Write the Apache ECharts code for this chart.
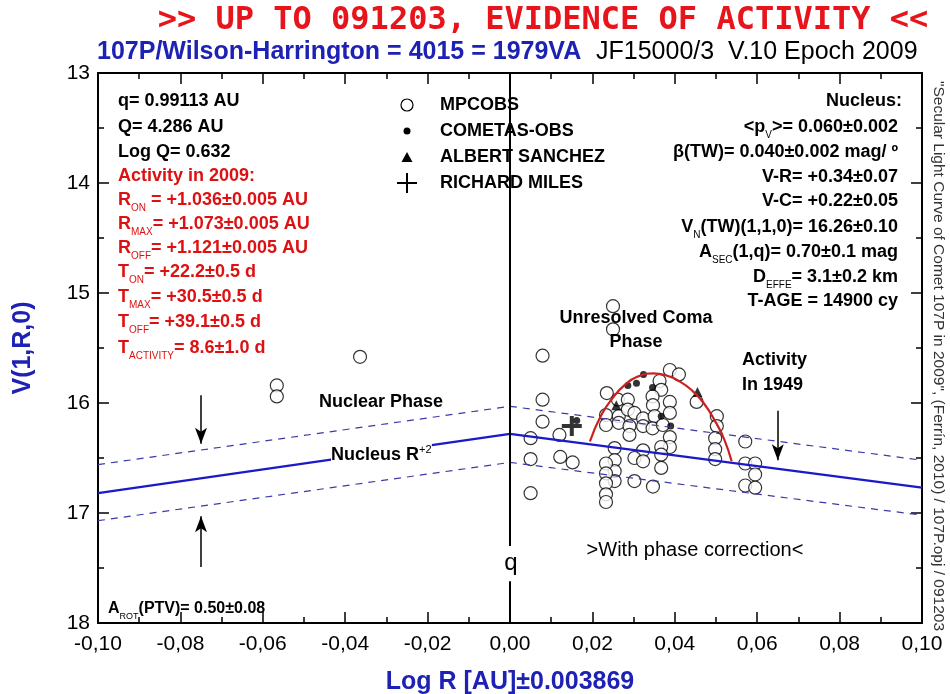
<!DOCTYPE html>
<html lang="en">
<head>
<meta charset="UTF-8">
<title>107P/Wilson-Harrington secular light curve</title>
<script src="https://cdn.jsdelivr.net/npm/echarts@6/dist/echarts.min.js"></script>
<style>
    html, body { margin: 0; padding: 0; background: #fff; }
    #chart { width: 950px; height: 694px; }
</style>
</head>
<body>
<div id="chart"></div>
<script>
// ---- data (x = Log R, y = V(1,R,0)) ----
var xMin = -0.10, xMax = 0.10, xStep = 0.02;
var yMin = 13, yMax = 18, yStep = 1;

var mpcObs = [
    [-0.0566, 15.84], [-0.0566, 15.94], [-0.0364, 15.58],
    [0.0079, 15.57], [0.0079, 15.97], [0.0079, 16.17], [0.0050, 16.32], [0.0050, 16.51], [0.0050, 16.82],
    [0.0120, 16.29], [0.0122, 16.49], [0.0152, 16.54],
    [0.0250, 15.12], [0.0250, 15.33],
    [0.0388, 15.70], [0.0410, 15.74], [0.0363, 15.80], [0.0367, 15.88], [0.0346, 15.94], [0.0388, 15.99],
    [0.0453, 15.99], [0.0235, 15.91], [0.0262, 15.97], [0.0286, 15.97], [0.0233, 16.11], [0.0233, 16.20],
    [0.0264, 16.12], [0.0264, 16.18], [0.0286, 16.06], [0.0302, 16.09], [0.0290, 16.21], [0.0290, 16.29],
    [0.0323, 16.14], [0.0323, 16.21], [0.0347, 16.02], [0.0351, 16.12], [0.0346, 16.23], [0.0371, 16.20],
    [0.0388, 16.09], [0.0388, 16.31], [0.0388, 16.40], [0.0367, 16.40], [0.0367, 16.47], [0.0367, 16.59],
    [0.0323, 16.43], [0.0302, 16.50], [0.0323, 16.53], [0.0254, 16.41], [0.0254, 16.52], [0.0254, 16.62],
    [0.0254, 16.71], [0.0233, 16.55], [0.0233, 16.64], [0.0233, 16.73], [0.0233, 16.83], [0.0233, 16.90],
    [0.0302, 16.71], [0.0347, 16.76], [0.0502, 16.12], [0.0502, 16.21], [0.0498, 16.32], [0.0498, 16.42],
    [0.0498, 16.51],
    [0.0571, 16.35], [0.0571, 16.55], [0.0595, 16.55], [0.0595, 16.65], [0.0571, 16.75], [0.0595, 16.77]
];
var cometasObs = [[0.0286, 15.84], [0.0307, 15.82], [0.0324, 15.74], [0.0346, 15.86], [0.0367, 16.12], [0.0390, 16.21], [0.0162, 16.16]];
var albertSanchez = [[0.0258, 16.02], [0.0455, 15.90]];
var richardMiles = [[0.0150, 16.21]];

var nucleusLine = [[-0.10, 16.82], [0.00, 16.28], [0.10, 16.77]];
var upperBand = [[-0.10, 16.56], [0.00, 16.03], [0.10, 16.52]];
var lowerBand = [[-0.10, 17.07], [0.00, 16.54], [0.10, 17.02]];
var comaCurve = [
    [0.0194, 16.35], [0.0220, 16.12], [0.0250, 15.95], [0.0280, 15.83], [0.0310, 15.76], [0.0347, 15.73],
    [0.0380, 15.75], [0.0410, 15.80], [0.0440, 15.88], [0.0470, 16.00], [0.0500, 16.18], [0.0520, 16.33], [0.0538, 16.53]
];

var FONT = '"Liberation Sans", Arial, sans-serif';
var RED = '#dd1111';
var BLUE = '#1e22b4';

function txt(x, y, text, o) {
    o = o || {};
    return {
        type: 'text', x: x, y: y, z: 100,
        style: {
            text: text,
            fill: o.color || '#000',
            fontSize: o.size || 18,
            fontWeight: o.weight || 'bold',
            fontFamily: o.family || FONT,
            align: o.align || 'left',
            verticalAlign: 'middle',
            backgroundColor: o.bg,
            rich: o.rich
        }
    };
}

function richSub(color, size) {
    return {
        a: { fill: color, fontSize: size, fontWeight: 'bold', fontFamily: FONT, lineHeight: 26 },
        s: { fill: color, fontSize: 10, fontFamily: FONT, lineHeight: 8, verticalAlign: 'bottom' }
    };
}

// frame axis: same look on all four sides
function frameAxis(extra) {
    var a = {
        type: 'value',
        axisLine: { onZero: false, lineStyle: { color: '#000', width: 2 } },
        axisTick: { inside: true, length: 11, lineStyle: { color: '#000', width: 1.5 } },
        minorTick: { show: true, splitNumber: 2, length: 6, lineStyle: { color: '#000', width: 1.5 } },
        axisLabel: { show: false },
        splitLine: { show: false }
    };
    for (var k in extra) a[k] = extra[k];
    return a;
}

var mChart = echarts.init(document.getElementById('chart'));

var blackRich = richSub('#000', 18);
var redRich = richSub(RED, 18);

var option = {
    animation: false,
    grid: { left: 98, right: 28, top: 73, bottom: 71, containLabel: false, outerBoundsMode: 'none' },
    xAxis: [
        frameAxis({
            min: xMin, max: xMax, interval: xStep, position: 'bottom',
            name: 'Log R [AU]±0.003869', nameLocation: 'middle', nameGap: 47,
            nameTextStyle: { color: BLUE, fontSize: 25, fontWeight: 'bold', fontFamily: FONT },
            axisLabel: {
                color: '#000', fontSize: 21, fontFamily: FONT, margin: 11,
                formatter: function (v) { return v.toFixed(2).replace('.', ','); }
            }
        }),
        frameAxis({ min: xMin, max: xMax, interval: xStep, position: 'top' })
    ],
    yAxis: [
        frameAxis({
            min: yMin, max: yMax, interval: yStep, inverse: true, position: 'left',
            name: 'V(1,R,0)', nameLocation: 'middle', nameGap: 62, nameRotate: 90,
            nameTextStyle: { color: BLUE, fontSize: 25, fontWeight: 'bold', fontFamily: FONT },
            axisLabel: { color: '#000', fontSize: 21, fontFamily: FONT, margin: 8 }
        }),
        frameAxis({ min: yMin, max: yMax, interval: yStep, inverse: true, position: 'right' })
    ],
    series: [
        {
            name: 'Upper band', type: 'line', data: upperBand, symbol: 'none',
            lineStyle: { color: '#3a3aa8', width: 1.2, type: [7, 6] }, silent: true
        },
        {
            name: 'Lower band', type: 'line', data: lowerBand, symbol: 'none',
            lineStyle: { color: '#3a3aa8', width: 1.2, type: [7, 6] }, silent: true
        },
        {
            name: 'Nucleus', type: 'line', data: nucleusLine, symbol: 'none',
            lineStyle: { color: '#1a1ac8', width: 2.2 }, silent: true
        },
        {
            name: 'Perihelion', type: 'line', data: [], silent: true,
            markLine: {
                silent: true, symbol: 'none', label: { show: false },
                lineStyle: { color: '#000', width: 2, type: 'solid' },
                data: [
                    [{ coord: [0, 13] }, { coord: [0, 17.3] }],
                    [{ coord: [0, 17.62] }, { coord: [0, 18] }]
                ]
            }
        },
        {
            name: 'Arrows', type: 'line', data: [], silent: true,
            markLine: {
                silent: true, symbol: ['none', 'arrow'], symbolSize: [9, 16], label: { show: false },
                lineStyle: { color: '#000', width: 1.5, type: 'solid' },
                data: [
                    [{ coord: [-0.075, 15.93] }, { coord: [-0.075, 16.37] }],
                    [{ coord: [-0.075, 17.49] }, { coord: [-0.075, 17.03] }],
                    [{ coord: [0.065, 16.07] }, { coord: [0.065, 16.52] }]
                ]
            }
        },
        {
            name: 'MPCOBS', type: 'scatter', data: mpcObs, symbol: 'circle', symbolSize: 13,
            itemStyle: { color: '#fff', borderColor: '#000', borderWidth: 1.2 }
        },
        {
            name: 'Activity fit', type: 'line', data: comaCurve, symbol: 'none', smooth: true,
            lineStyle: { color: '#cc2020', width: 2.2 }, silent: true
        },
        {
            name: 'COMETAS-OBS', type: 'scatter', data: cometasObs, symbol: 'circle', symbolSize: 7,
            itemStyle: { color: '#000' }
        },
        {
            name: 'ALBERT SANCHEZ', type: 'scatter', data: albertSanchez, symbol: 'triangle', symbolSize: 10,
            itemStyle: { color: '#000' }
        },
        {
            name: 'RICHARD MILES', type: 'scatter', data: richardMiles,
            symbol: 'path://M4,0 L6,0 L6,4 L10,4 L10,6 L6,6 L6,10 L4,10 L4,6 L0,6 L0,4 L4,4 Z', symbolSize: 20,
            itemStyle: { color: '#000' }
        }
    ],
    graphic: [
        txt(543, 21, '>> UP TO 091203, EVIDENCE OF ACTIVITY <<', { color: '#e8141c', size: 32, align: 'center', family: '"DejaVu Sans Mono", monospace' }),
        txt(97, 52, '107P/Wilson-Harrington = 4015 = 1979VA', { color: BLUE, size: 25 }),
        txt(596, 52, 'JF15000/3  V.10 Epoch 2009', { size: 25, weight: 'normal' }),
        {
            type: 'text', x: 938, y: 356, rotation: -Math.PI / 2, z: 100,
            style: {
                text: '"Secular Light Curve of Comet 107P in 2009", (Ferrín, 2010) / 107P.opj / 091203',
                fill: '#333', fontSize: 15.5, fontFamily: FONT, align: 'center', verticalAlign: 'middle'
            }
        },
        // left block
        txt(118, 101, 'q= 0.99113 AU'),
        txt(118, 127, 'Q= 4.286 AU'),
        txt(118, 152, 'Log Q= 0.632'),
        txt(118, 176, 'Activity in 2009:', { color: RED }),
        txt(118, 200, '{a|R}{s|ON}{a| = +1.036±0.005 AU}', { rich: redRich }),
        txt(118, 224, '{a|R}{s|MAX}{a|= +1.073±0.005 AU}', { rich: redRich }),
        txt(118, 248, '{a|R}{s|OFF}{a|= +1.121±0.005 AU}', { rich: redRich }),
        txt(118, 272, '{a|T}{s|ON}{a|= +22.2±0.5 d}', { rich: redRich }),
        txt(118, 297, '{a|T}{s|MAX}{a|= +30.5±0.5 d}', { rich: redRich }),
        txt(118, 322, '{a|T}{s|OFF}{a|= +39.1±0.5 d}', { rich: redRich }),
        txt(118, 348, '{a|T}{s|ACTIVITY}{a|= 8.6±1.0 d}', { rich: redRich }),
        // right block
        txt(902, 101, 'Nucleus:', { align: 'right' }),
        txt(898, 127, '{a|<p}{s|V}{a|>= 0.060±0.002}', { align: 'right', rich: blackRich }),
        txt(898, 152, 'β(TW)= 0.040±0.002 mag/ º', { align: 'right' }),
        txt(898, 177, 'V-R= +0.34±0.07', { align: 'right' }),
        txt(898, 201, 'V-C= +0.22±0.05', { align: 'right' }),
        txt(898, 227, '{a|V}{s|N}{a|(TW)(1,1,0)= 16.26±0.10}', { align: 'right', rich: blackRich }),
        txt(898, 252, '{a|A}{s|SEC}{a|(1,q)= 0.70±0.1 mag}', { align: 'right', rich: blackRich }),
        txt(898, 277, '{a|D}{s|EFFE}{a|= 3.1±0.2 km}', { align: 'right', rich: blackRich }),
        txt(898, 301, 'T-AGE = 14900 cy', { align: 'right' }),
        // legend
        { type: 'circle', z: 100, shape: { cx: 407, cy: 105, r: 6 }, style: { fill: '#fff', stroke: '#000', lineWidth: 1.2 } },
        { type: 'circle', z: 100, shape: { cx: 407, cy: 131, r: 3.5 }, style: { fill: '#000' } },
        { type: 'polygon', z: 100, shape: { points: [[401.5, 162], [412.5, 162], [407, 152]] }, style: { fill: '#000' } },
        { type: 'line', z: 100, shape: { x1: 397, y1: 183, x2: 417, y2: 183 }, style: { stroke: '#000', lineWidth: 2 } },
        { type: 'line', z: 100, shape: { x1: 407, y1: 173, x2: 407, y2: 193 }, style: { stroke: '#000', lineWidth: 2 } },
        txt(440, 105, 'MPCOBS'),
        txt(440, 131, 'COMETAS-OBS'),
        txt(440, 157, 'ALBERT SANCHEZ'),
        txt(440, 183, 'RICHARD MILES'),
        // annotations
        txt(636, 318, 'Unresolved Coma', { align: 'center' }),
        txt(636, 342, 'Phase', { align: 'center' }),
        txt(742, 360, 'Activity'),
        txt(742, 385, 'In 1949'),
        txt(381, 402, 'Nuclear Phase', { align: 'center' }),
        txt(331, 455, '{a|Nucleus R}{p|+2}', {
            bg: '#fff',
            rich: {
                a: { fill: '#000', fontSize: 18, fontWeight: 'bold', fontFamily: FONT, lineHeight: 22, backgroundColor: '#fff' },
                p: { fill: '#000', fontSize: 11, fontFamily: FONT, lineHeight: 12, verticalAlign: 'top', backgroundColor: '#fff' }
            }
        }),
        txt(108, 609, '{a|A}{s|ROT}{a|(PTV)= 0.50±0.08}', { rich: {
            a: { fill: '#000', fontSize: 16, fontWeight: 'bold', fontFamily: FONT, lineHeight: 24 },
            s: { fill: '#000', fontSize: 9, fontFamily: FONT, lineHeight: 8, verticalAlign: 'bottom' }
        } }),
        txt(511, 563, 'q', { size: 24, weight: 'normal', align: 'center' }),
        txt(695, 550, '>With phase correction<', { size: 20, weight: 'normal', align: 'center' })
    ]
};

mChart.setOption(option);
</script>
</body>
</html>
